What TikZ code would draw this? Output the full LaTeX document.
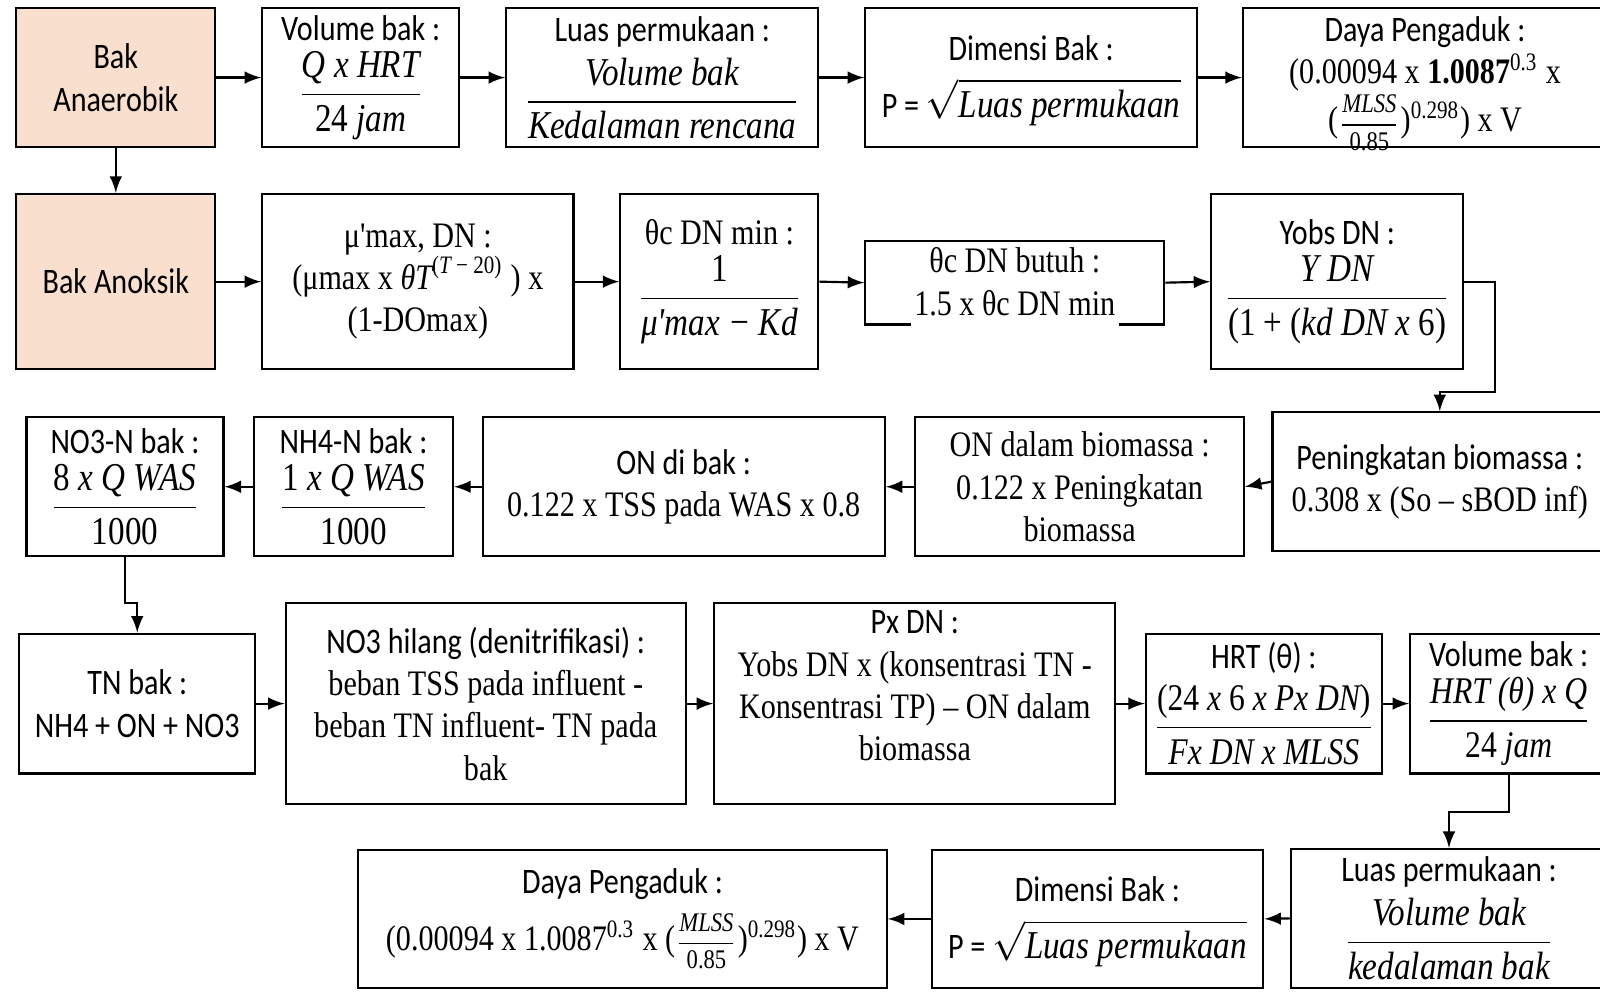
\documentclass[tikz,border=0pt]{standalone}
\usepackage{amsmath}
\usepackage[no-math]{fontspec}
\setmainfont[FakeStretch=0.84]{Carlito}
\newfontfamily\tnr[FakeStretch=0.84]{Liberation Serif}
\newfontfamily\formula[FakeStretch=0.84]{Liberation Serif}
\definecolor{peach}{HTML}{F9DFCD}
\newcommand{\rumus}[2][11]{{\fontsize{#1}{13}\selectfont$\displaystyle #2$}}
\newcommand{\fm}[1]{\text{\formula\itshape #1}}
\newcommand{\fu}[1]{\text{\formula #1}}

\begin{document}
\begin{tikzpicture}[>=latex, line width=0.6pt,
        blok/.style={rectangle, draw, align=center, inner sep=1pt, font={\fontsize{10}{11.8}\selectfont}},
        blokt/.style={blok, font={\fontsize{10}{11.8}\selectfont\tnr}},
        bak/.style={blok, fill=peach},
        teks/.style={align=center, font={\fontsize{10}{11.8}\selectfont\tnr}}]
        \useasboundingbox (0,0) rectangle (15.68,-9.80);
        \clip (0,0) rectangle (15.68,-9.80);

        \node[bak, minimum width=1.95cm, minimum height=1.36cm] (anaerobik) at (1.135,-0.76) {Bak\\Anaerobik};
        \node[blok, minimum width=1.93cm, minimum height=1.36cm] (volume1) at (3.535,-0.76) {Volume bak :\\[2pt]\rumus{\frac{\fm{Q x HRT}}{\fu{24 }\fm{jam}}}};
        \node[blok, minimum width=3.06cm, minimum height=1.36cm] (luas1) at (6.49,-0.76) {Luas permukaan :\\[2pt]\rumus{\frac{\fm{Volume bak}}{\fm{Kedalaman rencana}}}};
        \node[blok, minimum width=3.25cm, minimum height=1.36cm] (dimensi1) at (10.105,-0.76) {Dimensi Bak :\\[4pt]P = \rumus{\sqrt{\smash[b]{\fm{Luas permukaan}}}}};
        \node[blok, minimum width=3.57cm, minimum height=1.36cm, text depth=2pt] (daya1) at (13.965,-0.76) {Daya Pengaduk :\\{\tnr (0.00094 x {\bfseries 1.0087}\textsuperscript{0.3} x}\\{\tnr (\rumus[7.5]{\frac{\fm{MLSS}}{\fu{0.85}}})\textsuperscript{0.298}) x V}};

        \node[bak, minimum width=1.95cm, minimum height=1.72cm] (anoksik) at (1.135,-2.76) {Bak Anoksik};
        \node[blokt, minimum width=3.05cm, minimum height=1.72cm] (mumax) at (4.095,-2.76) {μ'max, DN :\\(μmax x \rumus[10]{\fm{θT}^{\fu{(}\fm{T}\fu{ − 20)}}} ) x\\(1-DOmax)};
        \node[blokt, minimum width=1.94cm, minimum height=1.72cm] (thetamin) at (7.05,-2.76) {θc DN min :\\[2pt]\rumus{\frac{\fu{1}}{\fm{μ'max − Kd}}}};
        \node[blok, minimum width=2.93cm, minimum height=0.82cm] (butuh) at (9.945,-2.77) {};
        \node[teks, fill=white, inner xsep=1pt, inner ysep=0.5pt, text depth=3.5pt, anchor=south] (butuhteks) at (9.945,-3.24) {θc DN butuh :\\1.5 x θc DN min};
        \node[blok, minimum width=2.47cm, minimum height=1.72cm] (yobs) at (13.105,-2.76) {Yobs DN :\\[2pt]\rumus{\frac{\fm{Y DN}}{\fu{(1 + (}\fm{kd DN x }\fu{6)}}}};

        \node[blok, minimum width=3.28cm, minimum height=1.36cm] (peningkatan) at (14.11,-4.72) {Peningkatan biomassa :\\{\tnr 0.308 x (So – sBOD inf)}};
        \node[blokt, minimum width=3.22cm, minimum height=1.36cm] (ondalam) at (10.58,-4.77) {ON dalam biomassa :\\0.122 x Peningkatan\\biomassa};
        \node[blok, minimum width=3.94cm, minimum height=1.36cm] (ondibak) at (6.70,-4.77) {ON di bak :\\{\tnr 0.122 x TSS pada WAS x 0.8}};
        \node[blok, minimum width=1.95cm, minimum height=1.36cm] (nh4n) at (3.465,-4.77) {NH4-N bak :\\[2pt]\rumus{\frac{\fu{1 }\fm{x Q WAS}}{\fu{1000}}}};
        \node[blok, minimum width=1.93cm, minimum height=1.36cm] (no3n) at (1.225,-4.77) {NO3-N bak :\\[2pt]\rumus{\frac{\fu{8 }\fm{x Q WAS}}{\fu{1000}}}};

        \node[blok, minimum width=2.31cm, minimum height=1.37cm] (tnbak) at (1.345,-6.895) {TN bak :\\NH4 + ON + NO3};
        \node[blok, minimum width=3.92cm, minimum height=1.97cm] (no3hilang) at (4.76,-6.895) {NO3 hilang (denitrifikasi) :\\{\tnr beban TSS pada influent -}\\{\tnr beban TN influent- TN pada}\\{\tnr bak}};
        \node[blok, minimum width=3.93cm, minimum height=1.97cm, text depth=10pt] (pxdn) at (8.965,-6.895) {Px DN :\\{\tnr Yobs DN x (konsentrasi TN -}\\{\tnr Konsentrasi TP) – ON dalam}\\{\tnr biomassa}};
        \node[blok, minimum width=2.31cm, minimum height=1.37cm] (hrt) at (12.385,-6.895) {HRT (θ) :\\[2pt]\rumus[10.5]{\frac{\fu{(24 }\fm{x }\fu{6 }\fm{x Px DN}\fu{)}}{\fm{Fx DN x MLSS}}}};
        \node[blok, minimum width=1.93cm, minimum height=1.37cm] (volume2) at (14.785,-6.895) {Volume bak :\\[2pt]\rumus[10.5]{\frac{\fm{HRT (θ) x Q}}{\fu{24 }\fm{jam}}}};

        \node[blok, minimum width=3.10cm, minimum height=1.36cm] (luas2) at (14.20,-9.00) {Luas permukaan :\\[2pt]\rumus{\frac{\fm{Volume bak}}{\fm{kedalaman bak}}}};
        \node[blok, minimum width=3.25cm, minimum height=1.35cm] (dimensi2) at (10.755,-9.005) {Dimensi Bak :\\[4pt]P = \rumus{\sqrt{\smash[b]{\fm{Luas permukaan}}}}};
        \node[blok, minimum width=5.18cm, minimum height=1.35cm] (daya2) at (6.10,-9.005) {Daya Pengaduk :\\[3pt]{\tnr (0.00094 x 1.0087\textsuperscript{0.3} x (\rumus[7.5]{\frac{\fm{MLSS}}{\fu{0.85}}})\textsuperscript{0.298}) x V}};

        \draw[->] (anaerobik.south) -- (anoksik.north);
        \draw[->] (anaerobik.east) -- (volume1.west);
        \draw[->] (volume1.east) -- (luas1.west);
        \draw[->] (luas1.east) -- (dimensi1.west);
        \draw[->] (dimensi1.east) -- (daya1.west);

        \draw[->] (anoksik.east) -- (mumax.west);
        \draw[->] (mumax.east) -- (thetamin.west);
        \draw[->] (thetamin.east) -- (butuh.west);
        \draw[->] (butuh.east) -- (yobs.west);
        \draw[->] (yobs.east) -- ++(0.3,0) -- ++(0,-1.08) -| (peningkatan.north);

        \draw[->] (peningkatan.west) -- (ondalam.east);
        \draw[->] (ondalam.west) -- (ondibak.east);
        \draw[->] (ondibak.west) -- (nh4n.east);
        \draw[->] (nh4n.west) -- (no3n.east);
        \draw[->] (no3n.south) -- ++(0,-0.45) -| (tnbak.north);

        \draw[->] (tnbak.east) -- (no3hilang.west);
        \draw[->] (no3hilang.east) -- (pxdn.west);
        \draw[->] (pxdn.east) -- (hrt.west);
        \draw[->] (hrt.east) -- (volume2.west);
        \draw[->] (volume2.south) -- ++(0,-0.37) -| (luas2.north);

        \draw[->] (luas2.west) -- (dimensi2.east);
        \draw[->] (dimensi2.west) -- (daya2.east);
    \end{tikzpicture}
\end{document}
